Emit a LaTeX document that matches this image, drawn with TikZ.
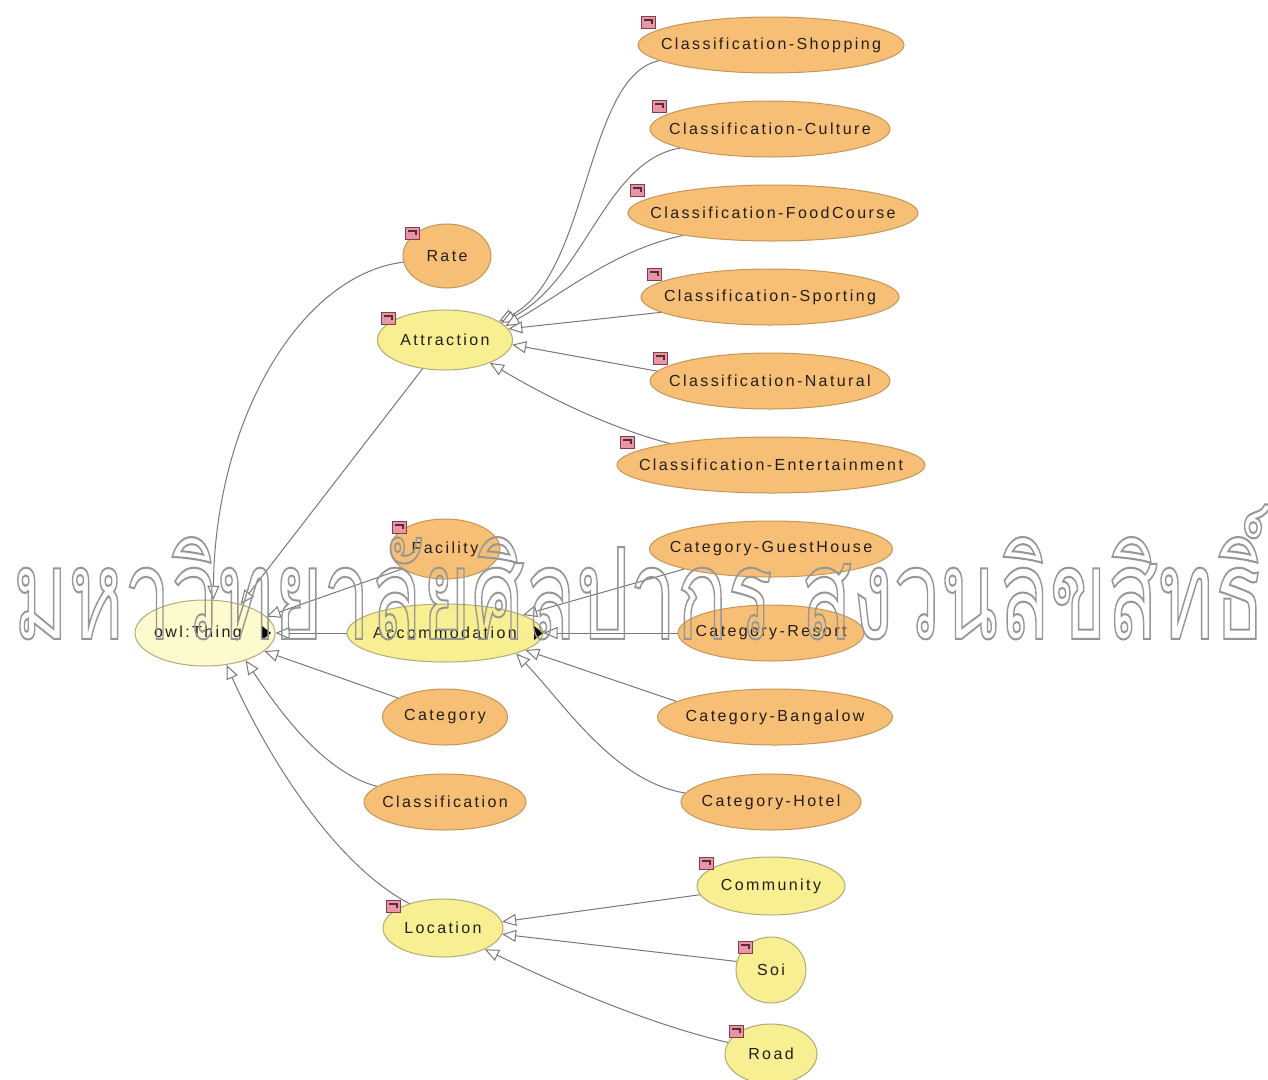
\documentclass[tikz,border=0pt]{standalone}
\usepackage{fontspec}
\usepackage{graphicx}
\setmainfont{Liberation Sans}
\newfontfamily\labelfont[LetterSpace=15]{Liberation Sans}
\newfontfamily\thaifont[Script=Thai,FakeBold=1.6]{Loma}
\usetikzlibrary{shapes.geometric,arrows.meta}

\definecolor{orangefill}{RGB}{247,191,118}
\definecolor{orangeline}{RGB}{196,150,88}
\definecolor{yellowfill}{RGB}{247,239,146}
\definecolor{yellowline}{RGB}{178,170,120}
\definecolor{rootfill}{RGB}{253,250,205}
\definecolor{edgegray}{RGB}{120,120,120}
\definecolor{labeltext}{RGB}{35,30,25}
\definecolor{tagfill}{RGB}{232,150,165}
\definecolor{tagline}{RGB}{130,60,75}
\definecolor{wmgray}{RGB}{150,150,150}

\newcommand\nodetext[1]{\makebox[0pt]{#1}}

\tikzset{
  cls/.style={ellipse, inner sep=0pt, line width=1pt,
    font=\labelfont\fontsize{16}{16}\selectfont, text=labeltext},
  orangecls/.style={cls, draw=orangeline, fill=orangefill},
  yellowcls/.style={cls, draw=yellowline, fill=yellowfill},
  rootcls/.style={cls, draw=yellowline, fill=rootfill},
  isa/.style={draw=edgegray, line width=1pt,
    -{Triangle[length=14pt,width=12pt,fill=white]}},
  marker/.style={fill=black},
}

% small annotation tag drawn at the upper-left of a class
\newcommand\classtag[2]{%
  \draw[fill=tagfill, draw=tagline, line width=0.8pt] (#1-7,#2-6) rectangle (#1+7,#2+6);
  \draw[draw=tagline!70!black, line width=1.2pt] (#1-4,#2-2) -- (#1+4,#2-2) -- (#1+4,#2+2);
}

\begin{document}
\begin{tikzpicture}[x=1pt,y=-1pt]
\useasboundingbox (0,0) rectangle (1268,1079);
\fill[white] (0,0) rectangle (1268,1079);

% root
\node[rootcls, minimum width=140pt, minimum height=66pt] (thing) at (205,633) {\nodetext{owl:Thing\hspace{14pt}}};

% first level
\node[orangecls, minimum width=88pt, minimum height=64pt] (rate) at (447,256) {\nodetext{Rate}};
\node[yellowcls, minimum width=135pt, minimum height=60pt] (attr) at (445,340) {\nodetext{Attraction}};
\node[orangecls, minimum width=110pt, minimum height=60pt] (fac) at (445,549) {\nodetext{Facility}};
\node[yellowcls, minimum width=196pt, minimum height=58pt] (acc) at (445,633) {\nodetext{Accommodation}};
\node[orangecls, minimum width=125pt, minimum height=56pt] (cat) at (445,717) {\nodetext{Category}};
\node[orangecls, minimum width=162pt, minimum height=56pt] (clas) at (445,802) {\nodetext{Classification}};
\node[yellowcls, minimum width=120pt, minimum height=58pt] (loc) at (443,928) {\nodetext{Location}};

% attraction subclasses
\node[orangecls, minimum width=266pt, minimum height=56pt] (shop) at (771,45) {\nodetext{Classification-Shopping}};
\node[orangecls, minimum width=240pt, minimum height=56pt] (cult) at (770,129) {\nodetext{Classification-Culture}};
\node[orangecls, minimum width=290pt, minimum height=56pt] (food) at (773,213) {\nodetext{Classification-FoodCourse}};
\node[orangecls, minimum width=258pt, minimum height=56pt] (sport) at (770,297) {\nodetext{Classification-Sporting}};
\node[orangecls, minimum width=240pt, minimum height=56pt] (nat) at (770,381) {\nodetext{Classification-Natural}};
\node[orangecls, minimum width=308pt, minimum height=56pt] (ent) at (771,465) {\nodetext{Classification-Entertainment}};

% accommodation subclasses
\node[orangecls, minimum width=243pt, minimum height=56pt] (guest) at (771,549) {\nodetext{Category-GuestHouse}};
\node[orangecls, minimum width=186pt, minimum height=56pt] (resort) at (771,633) {\nodetext{Category-Resort}};
\node[orangecls, minimum width=235pt, minimum height=56pt] (bang) at (775,717) {\nodetext{Category-Bangalow}};
\node[orangecls, minimum width=180pt, minimum height=56pt] (hotel) at (771,802) {\nodetext{Category-Hotel}};

% location subclasses
\node[yellowcls, minimum width=148pt, minimum height=58pt] (comm) at (771,886) {\nodetext{Community}};
\node[yellowcls, minimum width=70pt, minimum height=66pt] (soi) at (771,970) {\nodetext{Soi}};
\node[yellowcls, minimum width=92pt, minimum height=60pt] (road) at (771,1054) {\nodetext{Road}};

% expansion markers
\fill[marker] (262,626) -- (262,640) -- (271,633) -- cycle;
\fill[marker] (534,626) -- (534,640) -- (543,633) -- cycle;

% subclass edges into owl:Thing
\draw[isa] (rate.188) .. controls (300,275) and (215,420) .. (thing.76);
\draw[isa] (attr.232) -- (thing.39);
\draw[isa] (fac.205) -- (thing.15);
\draw[isa] (acc.west) -- (thing.east);
\draw[isa] (cat.158) -- (thing.343);
\draw[isa] (clas.167) .. controls (320,772) and (272,700) .. (thing.326);
\draw[isa] (loc.144) .. controls (330,862) and (262,745) .. (thing.304);

% subclass edges into Attraction
\draw[isa] (shop.188) .. controls (585,75) and (590,275) .. (attr.19);
\draw[isa] (cult.192) .. controls (605,160) and (585,280) .. (attr.17);
\draw[isa] (food.194) .. controls (615,250) and (565,292) .. (attr.13);
\draw[isa] (sport.188) -- (attr.10);
\draw[isa] (nat.175) -- (attr.356);
\draw[isa] (ent.168) .. controls (600,425) and (535,390) .. (attr.333);

% subclass edges into Accommodation
\draw[isa] (guest.193) -- (acc.13);
\draw[isa] (resort.west) -- (acc.east);
\draw[isa] (bang.171) -- (acc.348);
\draw[isa] (hotel.174) .. controls (615,782) and (565,705) .. (acc.344);

% subclass edges into Location
\draw[isa] (comm.187) -- (loc.6);
\draw[isa] (soi.166) -- (loc.354);
\draw[isa] (road.165) .. controls (640,1022) and (545,978) .. (loc.333);

% annotation tags
\classtag{412}{233}
\classtag{388}{318}
\classtag{648}{22}
\classtag{659}{106}
\classtag{637}{190}
\classtag{654}{274}
\classtag{660}{358}
\classtag{627}{442}
\classtag{399}{527}
\classtag{393}{906}
\classtag{706}{863}
\classtag{745}{947}
\classtag{736}{1031}

% outlined watermark over the drawing: stroked glyphs with an invisible fill
\node[inner sep=0pt] (wm) at (639,572) {\pgfsetfillopacity{0}\color{wmgray}\resizebox*{1252pt}{135pt}{\thaifont\fontsize{60}{60}\selectfont มหาวิทยาลัยศิลปากร สงวนลิขสิทธิ์}};
\end{tikzpicture}
\end{document}
